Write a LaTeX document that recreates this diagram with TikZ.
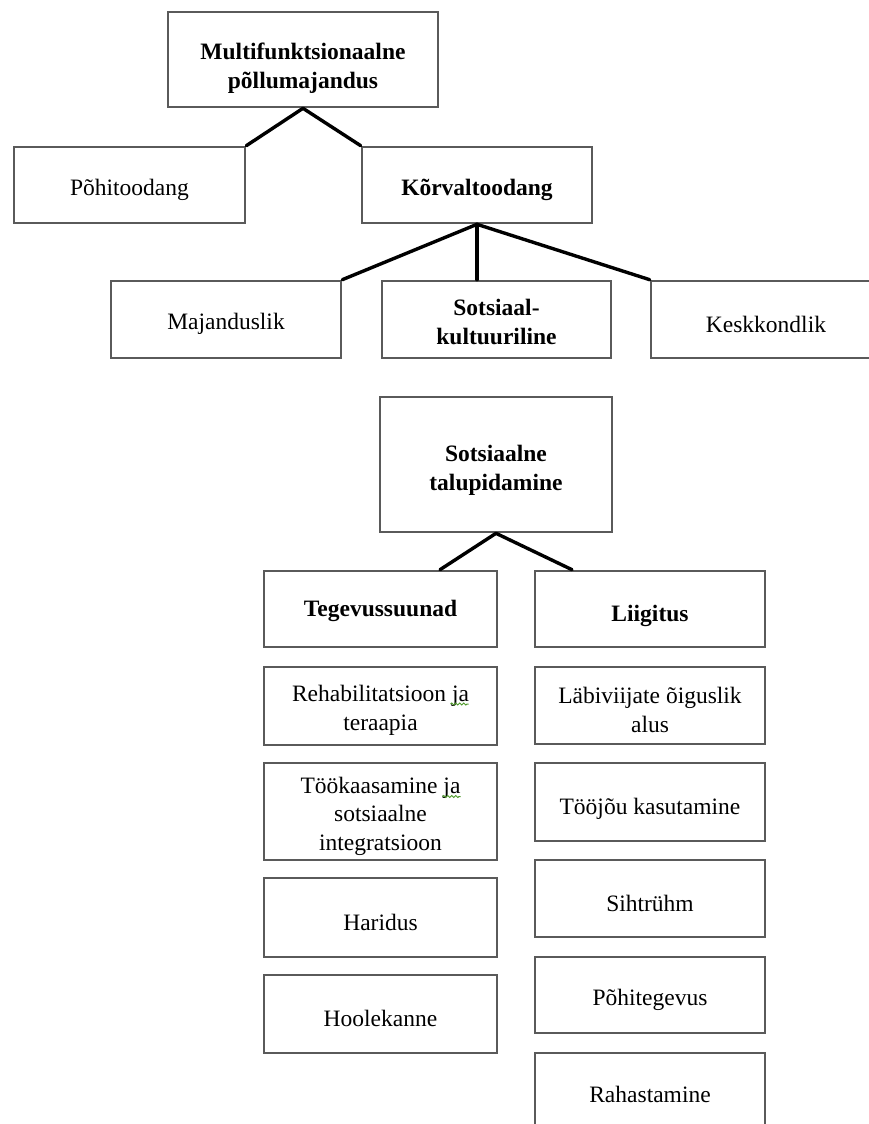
\documentclass[tikz,border=0pt]{standalone}
\usepackage{fontspec}
\setmainfont{Liberation Serif}
\usetikzlibrary{calc,decorations.pathmorphing}
\definecolor{boxline}{HTML}{5A5A5A}
\definecolor{spellmark}{HTML}{4E9A2A}
\tikzset{
  box/.style={draw=boxline, line width=2.6pt, rectangle, inner sep=0pt},
  txt/.style={align=center, inner sep=0pt, text=black, yshift=-4.5pt,
    font=\fontsize{23.5}{28.5}\selectfont},
  btxt/.style={txt, font=\fontsize{23.5}{29}\selectfont\bfseries},
  link/.style={draw=black, line width=3.4pt, line cap=round, line join=round},
  spell/.style={draw=spellmark, line width=1pt, decorate,
    decoration={snake, amplitude=1pt, segment length=4pt}},
}
\begin{document}
\begin{tikzpicture}[x=1pt, y=-1pt]
\useasboundingbox (0,0) rectangle (869,1124);
\fill[white] (0,0) rectangle (869,1124);

% upper tree
\node[box, minimum width=270pt, minimum height=95pt,
  label={[btxt, yshift=-4pt]center:Multifunktsionaalne\\põllumajandus}] (top) at (303,59.5) {};
\node[box, minimum width=231pt, minimum height=76pt,
  label={[txt]center:Põhitoodang}] (pohi) at (129.5,185) {};
\node[box, minimum width=230pt, minimum height=76pt,
  label={[btxt]center:Kõrvaltoodang}] (korv) at (477,185) {};

\node[box, minimum width=230pt, minimum height=77pt,
  label={[txt]center:Majanduslik}] (maj) at (226,319.5) {};
\node[box, minimum width=229pt, minimum height=77pt,
  label={[btxt, yshift=2pt]center:Sotsiaal-\\kultuuriline}] (sots) at (496.5,319.5) {};
\node[box, minimum width=230pt, minimum height=77pt,
  label={[txt]center:Keskkondlik}] (kesk) at (766,319.5) {};

% lower tree
\node[box, minimum width=232pt, minimum height=135pt,
  label={[btxt, yshift=-1pt]center:Sotsiaalne\\talupidamine}] (st) at (496,464.5) {};
\node[box, minimum width=233pt, minimum height=76pt,
  label={[btxt, yshift=3pt]center:Tegevussuunad}] (teg) at (380.5,609) {};
\node[box, minimum width=230pt, minimum height=76pt,
  label={[btxt, yshift=-2pt]center:Liigitus}] (lii) at (650,609) {};

% left column
\node[box, minimum width=233pt, minimum height=78pt,
  label={[txt]center:Rehabilitatsioon ja\\teraapia}] (reh) at (380.5,706) {};
\node[box, minimum width=233pt, minimum height=97pt,
  label={[txt]center:Töökaasamine ja\\sotsiaalne\\integratsioon}] (too) at (380.5,811.5) {};
\node[box, minimum width=233pt, minimum height=79pt,
  label={[txt]center:Haridus}] (har) at (380.5,917.5) {};
\node[box, minimum width=233pt, minimum height=78pt,
  label={[txt]center:Hoolekanne}] (hool) at (380.5,1014) {};

% right column
\node[box, minimum width=230pt, minimum height=77pt,
  label={[txt]center:Läbiviijate õiguslik\\alus}] (lab) at (650,705.5) {};
\node[box, minimum width=230pt, minimum height=78pt,
  label={[txt, yshift=-2pt]center:Tööjõu kasutamine}] (tooj) at (650,802) {};
\node[box, minimum width=230pt, minimum height=77pt,
  label={[txt]center:Sihtrühm}] (siht) at (650,898.5) {};
\node[box, minimum width=230pt, minimum height=76pt,
  label={[txt]center:Põhitegevus}] (pohit) at (650,995) {};
\node[box, minimum width=230pt, minimum height=78pt,
  label={[txt, yshift=2pt]center:Rahastamine}] (rah) at (650,1092) {};

% wavy underlines under "ja"
\draw[spell] ($(reh.center)+(70,-2)$) -- ($(reh.center)+(88,-2)$);
\draw[spell] ($(too.center)+(62,-15)$) -- ($(too.center)+(80,-15)$);

% connectors
\draw[link] (pohi.north east) -- (top.south) -- (korv.north west);
\draw[link] (maj.north east) -- (korv.south) -- (kesk.north west);
\draw[link] (korv.south) -- (korv.south |- sots.north);
\draw[link] ($(teg.north)+(59.5,0)$) -- (st.south) -- ($(lii.north)+(-78,0)$);
\end{tikzpicture}
\end{document}
